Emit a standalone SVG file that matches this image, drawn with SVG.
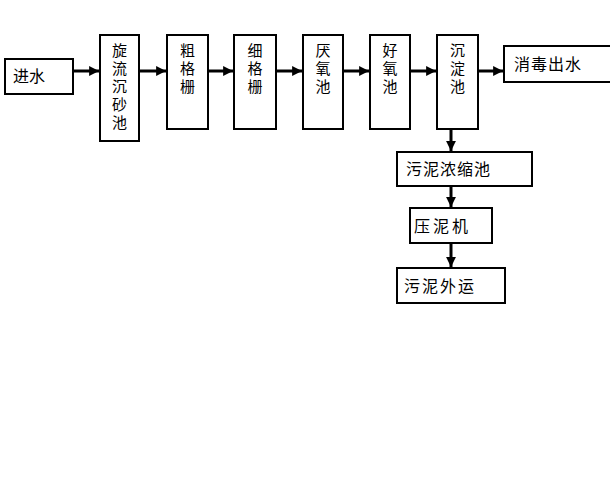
<svg xmlns="http://www.w3.org/2000/svg" width="610" height="481" viewBox="0 0 610 481">
<style>
.b{fill:#fff;stroke:#000;stroke-width:2}
.t{font-family:"Noto Sans CJK SC","Noto Sans CJK JP",sans-serif;font-size:16px;fill:#000}
.v{font-family:"Noto Sans CJK SC","Noto Sans CJK JP",sans-serif;font-size:15px;fill:#000;text-anchor:middle}
.c{stroke:#000;stroke-width:3;fill:none}
</style>
<defs>
<marker id="a" viewBox="0 0 10 10" refX="10" refY="5" markerWidth="3.3" markerHeight="3.3" orient="auto" markerUnits="strokeWidth">
<path d="M0,0 L10,5 L0,10 z" fill="#000"/>
</marker>
</defs>
<rect width="610" height="481" fill="#fff"/>
<g id="connectors">
<line class="c" x1="73" y1="71" x2="99" y2="71" marker-end="url(#a)"/>
<line class="c" x1="139" y1="71" x2="166" y2="71" marker-end="url(#a)"/>
<line class="c" x1="208" y1="71" x2="233" y2="71" marker-end="url(#a)"/>
<line class="c" x1="276" y1="71" x2="302" y2="71" marker-end="url(#a)"/>
<line class="c" x1="343" y1="71" x2="369" y2="71" marker-end="url(#a)"/>
<line class="c" x1="410" y1="71" x2="436" y2="71" marker-end="url(#a)"/>
<line class="c" x1="478" y1="71" x2="503" y2="71" marker-end="url(#a)"/>
<line class="c" x1="451" y1="129" x2="451" y2="151" marker-end="url(#a)"/>
<line class="c" x1="451" y1="186" x2="451" y2="207" marker-end="url(#a)"/>
<line class="c" x1="451" y1="243" x2="451" y2="267" marker-end="url(#a)"/>
</g>
<g id="n1"><rect class="b" x="5" y="59" width="68" height="35"/><text class="t" x="13" y="82">进水</text></g>
<g id="n2"><rect class="b" x="100" y="35" width="39" height="106"/>
<text class="v" x="119.5" y="56">旋</text><text class="v" x="119.5" y="74">流</text><text class="v" x="119.5" y="92">沉</text><text class="v" x="119.5" y="110">砂</text><text class="v" x="119.5" y="128">池</text></g>
<g id="n3"><rect class="b" x="167" y="35" width="41" height="94"/>
<text class="v" x="187.5" y="56">粗</text><text class="v" x="187.5" y="74">格</text><text class="v" x="187.5" y="92">栅</text></g>
<g id="n4"><rect class="b" x="234" y="35" width="42" height="94"/>
<text class="v" x="255" y="56">细</text><text class="v" x="255" y="74">格</text><text class="v" x="255" y="92">栅</text></g>
<g id="n5"><rect class="b" x="303" y="35" width="40" height="94"/>
<text class="v" x="323" y="56">厌</text><text class="v" x="323" y="74">氧</text><text class="v" x="323" y="92">池</text></g>
<g id="n6"><rect class="b" x="370" y="35" width="40" height="94"/>
<text class="v" x="390" y="56">好</text><text class="v" x="390" y="74">氧</text><text class="v" x="390" y="92">池</text></g>
<g id="n7"><rect class="b" x="437" y="35" width="41" height="94"/>
<text class="v" x="457.5" y="56">沉</text><text class="v" x="457.5" y="74">淀</text><text class="v" x="457.5" y="92">池</text></g>
<g id="n8"><rect class="b" x="504" y="46" width="110" height="36"/><text class="t" x="514" y="70" letter-spacing="1">消毒出水</text></g>
<g id="n9"><rect class="b" x="397" y="152" width="135" height="34"/><text class="t" x="406" y="175" letter-spacing="1">污泥浓缩池</text></g>
<g id="n10"><rect class="b" x="410" y="208" width="82" height="35"/><text class="t" x="414" y="232" letter-spacing="3">压泥机</text></g>
<g id="n11"><rect class="b" x="397" y="268" width="108" height="35"/><text class="t" x="404" y="292" letter-spacing="2">污泥外运</text></g>
</svg>
